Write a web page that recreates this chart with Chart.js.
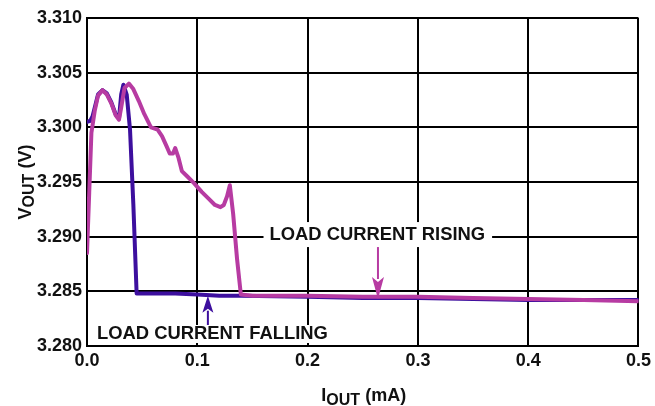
<!DOCTYPE html>
<html><head><meta charset="utf-8">
<script src="https://cdn.jsdelivr.net/npm/chart.js@4.4.0/dist/chart.umd.min.js"></script>
<style>html,body{margin:0;padding:0;background:#fff;}#wrap{width:655px;height:406px;}</style>
</head><body><div id="wrap"><canvas id="c" width="655" height="406"></canvas></div>
<script>
// ---- data ----
const risingX = [0, 0.002, 0.004, 0.007, 0.010, 0.014, 0.018, 0.022, 0.026, 0.029, 0.031, 0.034, 0.038, 0.042, 0.047, 0.052, 0.058, 0.064, 0.068, 0.072, 0.075, 0.078, 0.080, 0.083, 0.086, 0.091, 0.097, 0.104, 0.110, 0.116, 0.121, 0.124, 0.127, 0.1295, 0.1325, 0.136, 0.1395, 0.150, 0.200, 0.250, 0.300, 0.350, 0.400, 0.450, 0.500];
const risingY = [3.2885, 3.2940, 3.2995, 3.3015, 3.3029, 3.3034, 3.3030, 3.3022, 3.3011, 3.3007, 3.3018, 3.3036, 3.3040, 3.3035, 3.3024, 3.3012, 3.3000, 3.2998, 3.2992, 3.2983, 3.2976, 3.2976, 3.2981, 3.2972, 3.2960, 3.2955, 3.2949, 3.2941, 3.2935, 3.2929, 3.2927, 3.2929, 3.2937, 3.2947, 3.2921, 3.2880, 3.2847, 3.2846, 3.2846, 3.2845, 3.2845, 3.2844, 3.2843, 3.2842, 3.2841];
const fallingX = [0, 0.003, 0.005, 0.007, 0.010, 0.014, 0.018, 0.022, 0.026, 0.029, 0.031, 0.033, 0.036, 0.039, 0.042, 0.045, 0.060, 0.080, 0.100, 0.120, 0.140, 0.200, 0.250, 0.300, 0.350, 0.400, 0.450, 0.500];
const fallingY = [3.3005, 3.3006, 3.3010, 3.3018, 3.3030, 3.3034, 3.3031, 3.3023, 3.3012, 3.3008, 3.3030, 3.3039, 3.3030, 3.2998, 3.2930, 3.2848, 3.2848, 3.2848, 3.2847, 3.2846, 3.2846, 3.2845, 3.2844, 3.2844, 3.2843, 3.2842, 3.2842, 3.2842];
const xTickValues = [0, 0.1, 0.2, 0.3, 0.4, 0.5];
const yTickValues = [3.280, 3.285, 3.290, 3.295, 3.300, 3.305, 3.310];
const xTitle = ['I', 'OUT', ' (mA)'];
const yTitle = ['V', 'OUT', ' (V)'];

const PINK = '#b73ba2';
const BLUE = '#3d0f9e';
const FONT = '"Liberation Sans", Arial, sans-serif';

const annotations = [
  {text: 'LOAD CURRENT RISING', x: 0.2632, y: 3.29033, color: PINK, arrowX: 0.2638, tip: 3.2843, dir: 'down',
   padL: 6, padR: 7, padT: 11, padB: 14, headLen: 22, headHalf: 6},
  {text: 'LOAD CURRENT FALLING', x: 0.1137, y: 3.28119, color: BLUE, arrowX: 0.1096, tip: 3.2846, dir: 'up',
   padL: 4, padR: 4, padT: 8, padB: 10, headLen: 17, headHalf: 5.5}
];

function pts(xs, ys){ return xs.map((x,i)=>({x:x, y:ys[i]})); }

function drawSubText(ctx, parts, cx, baseY, big, small, shift){
  ctx.font = 'bold ' + big + 'px ' + FONT;
  const w0 = ctx.measureText(parts[0]).width;
  const w2 = ctx.measureText(parts[2]).width;
  ctx.font = 'bold ' + small + 'px ' + FONT;
  const w1 = ctx.measureText(parts[1]).width;
  let x = cx - (w0 + w1 + w2) / 2;
  ctx.textAlign = 'left';
  ctx.textBaseline = 'alphabetic';
  ctx.font = 'bold ' + big + 'px ' + FONT;
  ctx.fillText(parts[0], x, baseY); x += w0;
  ctx.font = 'bold ' + small + 'px ' + FONT;
  ctx.fillText(parts[1], x, baseY + shift); x += w1;
  ctx.font = 'bold ' + big + 'px ' + FONT;
  ctx.fillText(parts[2], x, baseY);
}

const decor = {
  id: 'decor',
  afterDatasetsDraw(chart){
    const ctx = chart.ctx, xs = chart.scales.x, ys = chart.scales.y;
    ctx.save();
    annotations.forEach(a => {
      ctx.font = 'bold 18.4px ' + FONT;
      const w = ctx.measureText(a.text).width;
      const cx = xs.getPixelForValue(a.x), cy = ys.getPixelForValue(a.y);
      const left = cx - w/2 - a.padL, right = cx + w/2 + a.padR;
      const top = cy - a.padT, bottom = cy + a.padB;
      ctx.fillStyle = '#fff';
      ctx.fillRect(left, top, right - left, bottom - top);
      ctx.fillStyle = '#111';
      ctx.textAlign = 'center';
      ctx.textBaseline = 'alphabetic';
      ctx.fillText(a.text, cx, cy + 6.5);
      // arrow
      const ax = xs.getPixelForValue(a.arrowX), tipY = ys.getPixelForValue(a.tip);
      ctx.strokeStyle = a.color; ctx.fillStyle = a.color; ctx.lineWidth = 2;
      ctx.beginPath();
      if (a.dir === 'down') {
        ctx.moveTo(ax, bottom); ctx.lineTo(ax, tipY - a.headLen + 2); ctx.stroke();
        ctx.beginPath(); ctx.moveTo(ax, tipY); ctx.lineTo(ax - a.headHalf, tipY - a.headLen);
        ctx.lineTo(ax, tipY - a.headLen + 5); ctx.lineTo(ax + a.headHalf, tipY - a.headLen); ctx.closePath(); ctx.fill();
      } else {
        ctx.moveTo(ax, top); ctx.lineTo(ax, tipY + a.headLen - 2); ctx.stroke();
        ctx.beginPath(); ctx.moveTo(ax, tipY); ctx.lineTo(ax - a.headHalf, tipY + a.headLen);
        ctx.lineTo(ax, tipY + a.headLen - 4); ctx.lineTo(ax + a.headHalf, tipY + a.headLen); ctx.closePath(); ctx.fill();
      }
    });
    ctx.restore();
  },
  afterDraw(chart){
    const ctx = chart.ctx, ca = chart.chartArea;
    ctx.save();
    ctx.fillStyle = '#111';
    drawSubText(ctx, xTitle, (ca.left + ca.right)/2 + 1, 401, 18, 16, 4);
    ctx.translate(31, (ca.top + ca.bottom)/2);
    ctx.rotate(-Math.PI/2);
    drawSubText(ctx, yTitle, 0, 0, 18, 16, 3);
    ctx.restore();
  }
};

new Chart(document.getElementById('c'), {
  type: 'scatter',
  data: {
    datasets: [
      {label: 'Load current rising', data: pts(risingX, risingY), showLine: true, borderColor: PINK, backgroundColor: PINK,
       borderWidth: 4, pointRadius: 0, tension: 0, borderJoinStyle: 'round', borderCapStyle: 'round'},
      {label: 'Load current falling', data: pts(fallingX, fallingY), showLine: true, borderColor: BLUE, backgroundColor: BLUE,
       borderWidth: 4, pointRadius: 0, tension: 0, borderJoinStyle: 'round', borderCapStyle: 'round'}
    ]
  },
  options: {
    responsive: false, animation: false, devicePixelRatio: 1,
    layout: {padding: {top: 18, right: 16, left: 0, bottom: 0}},
    plugins: {legend: {display: false}, tooltip: {enabled: false}},
    scales: {
      x: {
        type: 'linear', min: 0, max: 0.5,
        afterFit: s => { s.height = 60; },
        afterBuildTicks: s => { s.ticks = xTickValues.map(v => ({value: v})); },
        grid: {color: '#000', lineWidth: 2, drawTicks: false},
        border: {color: '#000', width: 2},
        ticks: {color: '#111', padding: 4, font: {family: FONT, size: 18, weight: 'bold'}, callback: v => v.toFixed(1)}
      },
      y: {
        type: 'linear', min: 3.28, max: 3.31,
        afterFit: s => { s.width = 87; },
        afterBuildTicks: s => { s.ticks = yTickValues.map(v => ({value: v})); },
        grid: {color: '#000', lineWidth: 2, drawTicks: false},
        border: {color: '#000', width: 2},
        ticks: {color: '#111', padding: 5, font: {family: FONT, size: 18, weight: 'bold'}, callback: v => v.toFixed(3)}
      }
    }
  },
  plugins: [decor]
});
</script>
</body></html>
